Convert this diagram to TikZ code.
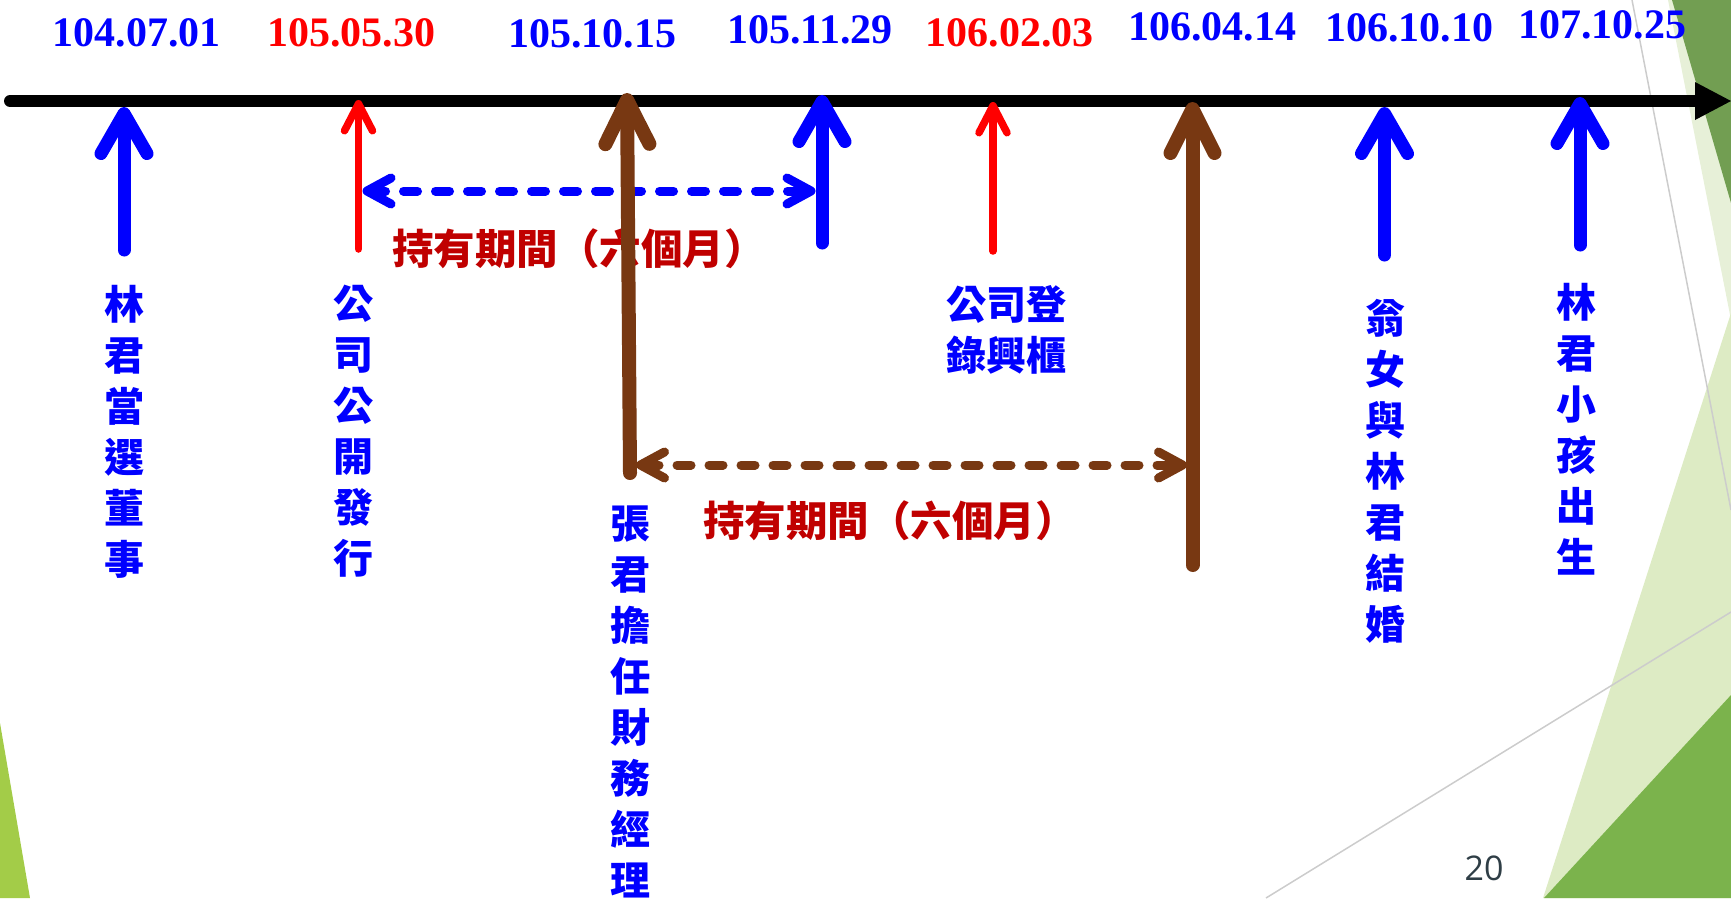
\documentclass[tikz,border=0pt]{standalone}
\usepackage{fontspec}
\setmainfont{Liberation Serif}
\newfontfamily\cjk{Noto Sans CJK TC}
\newfontfamily\numfont{Open Sans}
\usepackage{tikz}
\usetikzlibrary{arrows.meta}
\definecolor{evblue}{RGB}{0,0,255}
\definecolor{evred}{RGB}{255,0,0}
\definecolor{holdred}{RGB}{192,0,0}
\definecolor{evbrown}{RGB}{120,56,18}
\definecolor{leafgreen}{RGB}{163,204,72}
\definecolor{facetdark}{RGB}{114,158,82}
\definecolor{facetpale}{RGB}{231,240,216}
\definecolor{facetlight}{RGB}{221,235,196}
\definecolor{facetgreen}{RGB}{123,179,76}
\definecolor{pagegray}{RGB}{47,62,70}
\tikzset{datelabel/.style={font=\bfseries\fontsize{42}{42}\selectfont, inner sep=0pt},
 eventlabel/.style={font=\cjk\bfseries\fontsize{40}{51}\selectfont, text=evblue, align=center, inner sep=0pt},
 holdlabel/.style={font=\cjk\bfseries\fontsize{41.5}{41.5}\selectfont, text=holdred, inner sep=0pt},
 bigup/.style={evblue, line width=13pt, line cap=round, -{Straight Barb[length=40pt,width=46pt,round]}},
 thinup/.style={evred, line width=7.5pt, line cap=round, -{Straight Barb[length=27pt,width=28pt,round]}},
 brownup/.style={evbrown, line width=14pt, line cap=round, -{Straight Barb[length=44pt,width=44pt,round]}},
 holdspan/.style={line width=9pt, line cap=round, dash pattern=on 14pt off 18pt,
   {Straight Barb[length=24pt,width=26pt,round]}-{Straight Barb[length=24pt,width=26pt,round]}},
 facetline/.style={black!20, line width=1.5pt},
 }

\begin{document}
\begin{tikzpicture}[x=1pt,y=-1pt]
    \useasboundingbox (0,0) rectangle (1731,898);
    % background facets
    \fill[leafgreen] (0,723) -- (30,898) -- (0,898) -- cycle;
    \fill[facetpale] (1668,0) -- (1731,0) -- (1731,320) -- cycle;
    \fill[facetdark] (1672,0) -- (1731,0) -- (1731,203) -- cycle;
    \fill[facetlight] (1731,313) -- (1543,898) -- (1731,898) -- cycle;
    \fill[facetgreen] (1731,695) -- (1544,898) -- (1731,898) -- cycle;
    \draw[facetline] (1632,0) -- (1731,510);
    \draw[facetline] (1266,898) -- (1731,612);

    % time axis
    \draw[line width=12pt, line cap=round] (10,101) -- (1696,101);
    \fill (1695,82) -- (1731,101) -- (1695,120) -- cycle;

    \node[datelabel, text=evblue] (d1) at (136.5,32.5) {104.07.01};
    \node[datelabel, text=evred] (d2) at (351,32.5) {105.05.30};
    \node[datelabel, text=evblue] (d3) at (592,33.5) {105.10.15};
    \node[datelabel, text=evblue] (d4) at (810,30) {105.11.29};
    \node[datelabel, text=evred] (d5) at (1009.5,32.5) {106.02.03};
    \node[datelabel, text=evblue] (d6) at (1212,27) {106.04.14};
    \node[datelabel, text=evblue] (d7) at (1409,28) {106.10.10};
    \node[datelabel, text=evblue] (d8) at (1602,25) {107.10.25};

    \coordinate (t1) at (124,107);    \coordinate (b1) at (124,250);
    \coordinate (t2) at (358.5,100);  \coordinate (b2) at (358.5,249);
    \coordinate (t3) at (627,93);     \coordinate (b3) at (630,473);
    \coordinate (t4) at (822,95);     \coordinate (b4) at (822,243);
    \coordinate (t5) at (993,102);    \coordinate (b5) at (993,251);
    \coordinate (t6) at (1192.5,102); \coordinate (b6) at (1192.5,565);
    \coordinate (t7) at (1384.5,107); \coordinate (b7) at (1384.5,255);
    \coordinate (t8) at (1580,97);    \coordinate (b8) at (1580,245);

    \node[eventlabel] (e1) at (124,432) {林\\君\\當\\選\\董\\事};
    \node[eventlabel] (e2) at (353,431) {公\\司\\公\\開\\發\\行};
    \node[eventlabel] (e3) at (630,701.5) {張\\君\\擔\\任\\財\\務\\經\\理};
    \node[eventlabel] (e4) at (1006,329.5) {公司登\\錄興櫃};
    \node[eventlabel] (e5) at (1385,471.5) {翁\\女\\與\\林\\君\\結\\婚};
    \node[eventlabel] (e6) at (1576,429.5) {林\\君\\小\\孩\\出\\生};

    \node[holdlabel] (h1) at (579,249) {持有期間（六個月）};
    \node[holdlabel] (h2) at (890,521) {持有期間（六個月）};

    \draw[bigup] (b1) -- (t1);
    \draw[thinup] (b2) -- (t2);
    \draw[bigup] (b4) -- (t4);
    \draw[thinup] (b5) -- (t5);
    \draw[bigup] (b7) -- (t7);
    \draw[bigup] (b8) -- (t8);

    \coordinate (s1) at (362.5,191); \coordinate (s2) at (815.5,191);
    \coordinate (s3) at (636,465);   \coordinate (s4) at (1187,465);
    \draw[holdspan, evblue] (s1) -- (s2);
    \draw[holdspan, evbrown] (s3) -- (s4);

    \draw[brownup] (b3) -- (t3);
    \draw[brownup] (b6) -- (t6);

    \node[font=\numfont\fontsize{34}{34}\selectfont, text=pagegray] (pg) at (1484,868) {20};
\end{tikzpicture}
\end{document}
